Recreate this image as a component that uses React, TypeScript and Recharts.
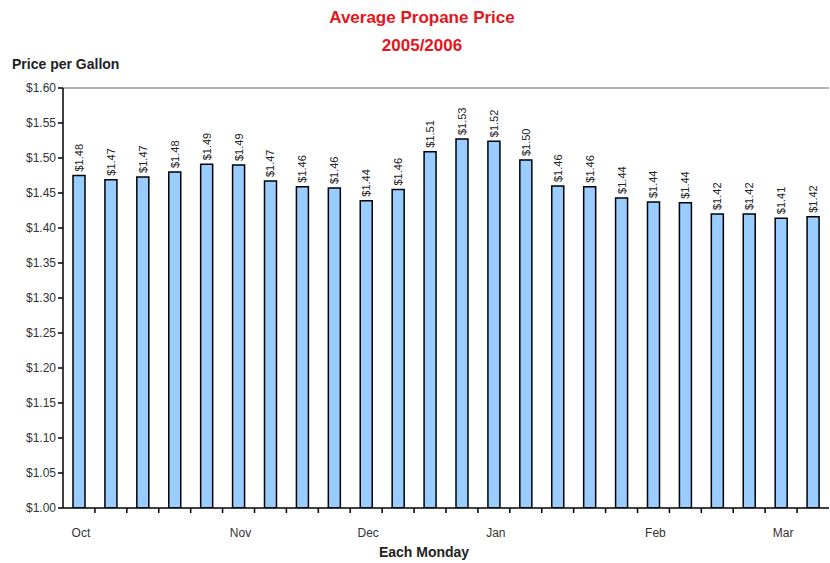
import * as React from "react"
import { BarChart, Bar, XAxis, YAxis, ReferenceLine, LabelList } from "recharts"

// one bar per Monday, Oct 3 2005 .. Mar 13 2006
const weeks = [
  "Oct", "", "", "", "", "Nov", "", "", "", "Dec", "", "", "",
  "Jan", "", "", "", "", "Feb", "", "", "", "Mar", "",
]
const prices = [
  1.475, 1.469, 1.473, 1.48, 1.491, 1.49, 1.467, 1.459, 1.457, 1.439, 1.455, 1.509,
  1.527, 1.524, 1.497, 1.46, 1.459, 1.443, 1.437, 1.436, 1.42, 1.42, 1.414, 1.416,
]
const priceLabels = [
  "$1.48", "$1.47", "$1.47", "$1.48", "$1.49", "$1.49", "$1.47", "$1.46", "$1.46", "$1.44", "$1.46", "$1.51",
  "$1.53", "$1.52", "$1.50", "$1.46", "$1.46", "$1.44", "$1.44", "$1.44", "$1.42", "$1.42", "$1.41", "$1.42",
]
const yTicks = [1.0, 1.05, 1.1, 1.15, 1.2, 1.25, 1.3, 1.35, 1.4, 1.45, 1.5, 1.55, 1.6]

const data = prices.map((p, i) => ({ id: i, month: weeks[i], price: p, label: priceLabels[i] }))

const font = "Arial, 'Liberation Sans', sans-serif"

const MonthTick = (props: any) => {
  const { x, y, payload, index } = props
  const half = payload.offset ?? 16
  const month = weeks[payload.value]
  return (
    <g>
      {index < weeks.length - 1 && (
        <line x1={x + half} x2={x + half} y1={y - 8} y2={y - 3} stroke="#000" strokeWidth={1.5} />
      )}
      {month && (
        <text x={x + 2} y={y + 21} textAnchor="middle" fontSize={12} fill="#333" fontFamily={font}>
          {month}
        </text>
      )}
    </g>
  )
}

const ValueLabel = (props: any) => {
  const { x, y, width, index } = props
  const cx = x + width / 2 + 4
  const cy = y - 4
  return (
    <text
      x={cx}
      y={cy}
      transform={`rotate(-90 ${cx} ${cy})`}
      textAnchor="start"
      fontSize={11}
      fill="#222"
      fontFamily={font}
    >
      {priceLabels[index]}
    </text>
  )
}

export default function App() {
  return (
    <div style={{ position: "relative", width: 830, height: 563, background: "#fff", fontFamily: font }}>
      <style>{"body{margin:0}"}</style>
      <div style={{ position: "absolute", left: 0, width: 844, top: 4, textAlign: "center", color: "#e8141b", fontWeight: "bold", fontSize: 17, lineHeight: "28px" }}>
        Average Propane Price
        <br />
        2005/2006
      </div>
      <div style={{ position: "absolute", left: 12, top: 56, fontWeight: "bold", fontSize: 14, color: "#222" }}>
        Price per Gallon
      </div>
      <div style={{ position: "absolute", left: 0, width: 848, top: 544, textAlign: "center", fontWeight: "bold", fontSize: 14, color: "#222" }}>
        Each Monday
      </div>
      <BarChart width={830} height={563} data={data} margin={{ top: 88, right: 1, left: 0, bottom: 0 }}>
        <XAxis
          dataKey="id"
          type="category"
          axisLine={{ stroke: "#000", strokeWidth: 1.5 }}
          tickLine={false}
          interval={0}
          height={55}
          tick={<MonthTick />}
        />
        <YAxis
          type="number"
          domain={[1, 1.6]}
          ticks={yTicks}
          allowDataOverflow
          width={63}
          axisLine={{ stroke: "#000", strokeWidth: 1.5 }}
          tickLine={{ stroke: "#000", strokeWidth: 1.5 }}
          tickSize={5}
          tick={{ fontSize: 12, fill: "#333", fontFamily: font }}
          tickFormatter={(v: number) => "$" + v.toFixed(2)}
        />
        <ReferenceLine y={1.6} stroke="#999" strokeWidth={1.5} />
        <Bar dataKey="price" fill="#99ccff" stroke="#000" strokeWidth={1.5} barSize={12} isAnimationActive={false}>
          <LabelList dataKey="label" content={<ValueLabel />} />
        </Bar>
      </BarChart>
    </div>
  )
}
